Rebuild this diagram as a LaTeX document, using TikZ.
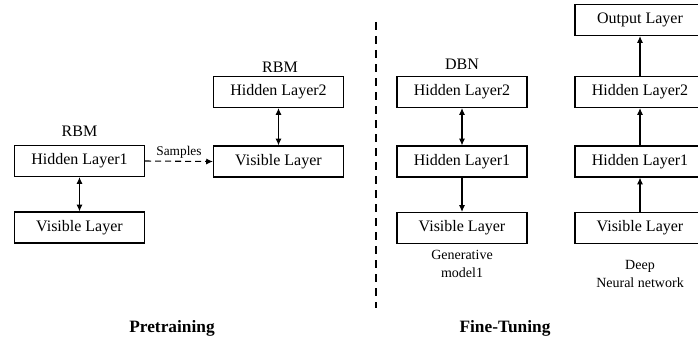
\documentclass[tikz,border=0pt]{standalone}
\usepackage{fontspec}
\setmainfont{Liberation Serif}
\usetikzlibrary{arrows.meta}
\tikzset{
  layer/.style={draw, line width=0.9pt, minimum width=97.5pt, minimum height=23.25pt,
    inner sep=0pt, font=\fontsize{12}{14}\selectfont},
  caption/.style={font=\fontsize{12}{14}\selectfont, inner sep=1pt},
  note/.style={font=\fontsize{10.5}{13.5}\selectfont, align=center, inner sep=0pt},
  phase/.style={font=\fontsize{13}{15}\selectfont\bfseries, inner sep=0pt},
  uparr/.style={-{Latex[length=5pt,width=4.5pt]}, line width=0.8pt},
  biarr/.style={{Latex[length=5pt,width=4.5pt]}-{Latex[length=5pt,width=4.5pt]}, line width=0.8pt}
}
\begin{document}
\begin{tikzpicture}[x=0.75pt, y=-0.75pt]
    \useasboundingbox (0,0) rectangle (698,353);
    \clip (0,0) rectangle (698,353);

    % First RBM
    \node[layer] (lh1) at (79.5,161) {Hidden Layer1};
    \node[layer] (lvis) at (79.5,227.5) {Visible Layer};
    \node[caption] (rbmone) at (79.5,131) {RBM};
    \draw[biarr] (lh1) -- (lvis);

    % Second RBM
    \node[layer] (mh2) at (278.5,92) {Hidden Layer2};
    \node[layer] (mvis) at (278.5,161.5) {Visible Layer};
    \node[caption] (rbmtwo) at (280,67) {RBM};
    \draw[biarr] (mh2) -- (mvis);
    \draw[uparr, dash pattern=on 4.5pt off 3pt] (lh1.east) -- (mvis.west)
        node[midway, above, font=\fontsize{10}{12}\selectfont, inner sep=2pt] {Samples};

    % Divider
    \coordinate (divtop) at (376,22);
    \coordinate (divbot) at (376,308);
    \draw[line width=0.9pt, dash pattern=on 6pt off 4.5pt] (divtop) -- (divbot);

    % DBN
    \node[layer] (dh2) at (462,92) {Hidden Layer2};
    \node[layer] (dh1) at (462,161.5) {Hidden Layer1};
    \node[layer] (dvis) at (462,228) {Visible Layer};
    \node[caption] (dbn) at (462,64) {DBN};
    \node[note] (gen) at (462,264) {Generative\\model1};
    \draw[biarr] (dh2) -- (dh1);
    \draw[uparr] (dh1) -- (dvis);

    % Deep neural network
    \node[layer] (rout) at (640,20) {Output Layer};
    \node[layer] (rh2) at (640,92) {Hidden Layer2};
    \node[layer] (rh1) at (640,161.5) {Hidden Layer1};
    \node[layer] (rvis) at (640,228) {Visible Layer};
    \node[note] (dnn) at (640,274) {Deep\\Neural network};
    \draw[uparr] (rvis) -- (rh1);
    \draw[uparr] (rh1) -- (rh2);
    \draw[uparr] (rh2) -- (rout);

    % Phase titles
    \node[phase] (pre) at (172,328) {Pretraining};
    \node[phase] (fine) at (505,328) {Fine-Tuning};
\end{tikzpicture}
\end{document}
